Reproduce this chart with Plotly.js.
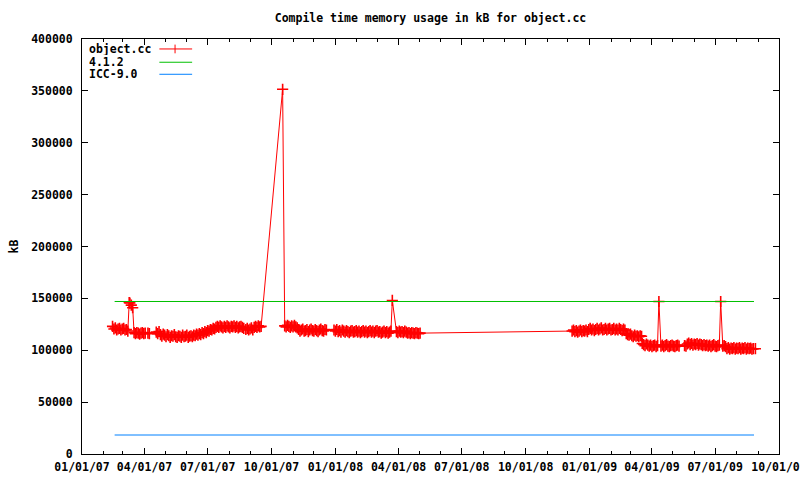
<!DOCTYPE html>
<html>
<head>
<meta charset="utf-8">
<script src="https://cdn.plot.ly/plotly-3.0.1.min.js"></script>
<style>html,body{margin:0;padding:0;background:#fff;}#chart{width:800px;height:480px;}</style>
</head>
<body>
<div id="chart"></div>
<script>
// ---- data ----
const chartTitle = 'Compile time memory usage in kB for object.cc';
const yTitle = 'kB';
const seriesNames = ['object.cc', '4.1.2', 'ICC-9.0'];

const objDates = [
'2007-02-14','2007-02-16','2007-02-18','2007-02-20','2007-02-22','2007-02-24','2007-02-26','2007-02-28','2007-03-02','2007-03-04','2007-03-06','2007-03-08',
'2007-03-10','2007-03-11','2007-03-13','2007-03-15','2007-03-17',
'2007-03-19','2007-03-21','2007-03-23','2007-03-25','2007-03-27','2007-03-29','2007-03-31','2007-04-02','2007-04-06','2007-04-08',
'2007-04-18','2007-04-20','2007-04-22',
'2007-04-24','2007-04-26','2007-04-28','2007-04-30','2007-05-02','2007-05-04','2007-05-06','2007-05-08','2007-05-10','2007-05-12','2007-05-14','2007-05-16','2007-05-18','2007-05-20','2007-05-22','2007-05-24','2007-05-26','2007-05-28','2007-05-30','2007-06-01','2007-06-03','2007-06-05','2007-06-07','2007-06-09','2007-06-11',
'2007-06-13','2007-06-15','2007-06-17','2007-06-19','2007-06-21','2007-06-23','2007-06-25','2007-06-27','2007-06-29','2007-07-01','2007-07-03','2007-07-05','2007-07-07','2007-07-09','2007-07-11','2007-07-13',
'2007-07-15','2007-07-17','2007-07-19','2007-07-21','2007-07-23','2007-07-25','2007-07-27','2007-07-29','2007-07-31','2007-08-02','2007-08-04','2007-08-06','2007-08-08','2007-08-10','2007-08-12','2007-08-14','2007-08-16','2007-08-18','2007-08-20','2007-08-22',
'2007-08-25','2007-08-27','2007-08-29','2007-08-31','2007-09-02','2007-09-04','2007-09-06','2007-09-08','2007-09-10','2007-09-12','2007-09-14','2007-09-16',
'2007-10-17',
'2007-10-20','2007-10-22','2007-10-24','2007-10-26','2007-10-28','2007-10-30','2007-11-01','2007-11-03','2007-11-05','2007-11-07',
'2007-11-09','2007-11-11','2007-11-13','2007-11-15','2007-11-17','2007-11-19','2007-11-21','2007-11-23','2007-11-25','2007-11-27','2007-11-29','2007-12-01','2007-12-03','2007-12-05','2007-12-07','2007-12-09','2007-12-11','2007-12-13','2007-12-15','2007-12-17','2007-12-19',
'2007-12-30',
'2008-01-01','2008-01-03','2008-01-05','2008-01-07','2008-01-09','2008-01-11','2008-01-13','2008-01-15','2008-01-17','2008-01-19','2008-01-21','2008-01-23','2008-01-25','2008-01-27','2008-01-29','2008-01-31',
'2008-02-02','2008-02-04','2008-02-06','2008-02-08','2008-02-10','2008-02-12','2008-02-14','2008-02-16','2008-02-18','2008-02-20','2008-02-22','2008-02-24','2008-02-26','2008-02-28',
'2008-03-01','2008-03-03','2008-03-05','2008-03-07','2008-03-09','2008-03-11','2008-03-13','2008-03-15','2008-03-17','2008-03-19','2008-03-21',
'2008-03-23','2008-03-29',
'2008-03-31','2008-04-02','2008-04-04','2008-04-06','2008-04-08','2008-04-10','2008-04-12','2008-04-14','2008-04-16','2008-04-18','2008-04-20','2008-04-22','2008-04-24','2008-04-26','2008-04-28','2008-04-30','2008-05-02',
'2008-12-07','2008-12-09','2008-12-11','2008-12-13','2008-12-15','2008-12-17','2008-12-19','2008-12-21','2008-12-23','2008-12-25','2008-12-27','2008-12-29',
'2008-12-31','2009-01-02','2009-01-04','2009-01-06','2009-01-08','2009-01-10','2009-01-12','2009-01-14','2009-01-16','2009-01-18','2009-01-20','2009-01-22','2009-01-24','2009-01-26','2009-01-28','2009-01-30',
'2009-02-01','2009-02-03','2009-02-05','2009-02-07','2009-02-09','2009-02-11','2009-02-13','2009-02-15','2009-02-17','2009-02-19','2009-02-21',
'2009-02-23','2009-02-25','2009-02-27','2009-03-01',
'2009-03-03','2009-03-05','2009-03-07','2009-03-09','2009-03-11','2009-03-13','2009-03-15','2009-03-17',
'2009-03-18','2009-03-20','2009-03-22','2009-03-24','2009-03-26','2009-03-28','2009-03-30','2009-04-01','2009-04-03','2009-04-05','2009-04-07','2009-04-09',
'2009-04-11',
'2009-04-14','2009-04-16','2009-04-18','2009-04-20','2009-04-22','2009-04-24','2009-04-26','2009-04-28','2009-04-30','2009-05-02','2009-05-04','2009-05-06','2009-05-08','2009-05-10',
'2009-05-18','2009-05-20',
'2009-05-22','2009-05-24','2009-05-26','2009-05-28','2009-05-30','2009-06-01','2009-06-03','2009-06-05','2009-06-07','2009-06-09','2009-06-11','2009-06-13','2009-06-15','2009-06-17','2009-06-19','2009-06-21',
'2009-06-23','2009-06-25','2009-06-27','2009-06-29','2009-07-01','2009-07-03','2009-07-05','2009-07-07',
'2009-07-09','2009-07-12','2009-07-14','2009-07-16',
'2009-07-18','2009-07-20','2009-07-22','2009-07-24','2009-07-26','2009-07-28','2009-07-30','2009-08-01','2009-08-03','2009-08-05','2009-08-07','2009-08-09','2009-08-11','2009-08-13','2009-08-15','2009-08-17','2009-08-19','2009-08-21','2009-08-23','2009-08-25','2009-08-28'
];

const objKB = [
123000,120500,121500,119500,120500,121000,119500,120500,121000,119500,120000,118500,
146000,145500,143500,141000,117000,
116000,117000,116500,115500,116500,117000,116000,116500,116500,116000,
117500,116000,118000,
115000,113500,115500,114500,113000,115000,114000,112500,114000,113500,115000,113000,112500,114000,113500,112500,114500,113000,113500,114500,112500,113500,114000,113000,114500,
114000,115500,114500,116000,115000,117000,116000,118000,117000,119000,118500,120000,119500,121000,120500,122000,
123000,122000,123500,122500,121500,123000,122000,123500,122500,121500,123000,122500,123500,122000,123000,121500,122500,123000,122000,121000,
120000,121000,119500,120500,121500,119500,122000,123000,122000,123500,122500,123000,
351500,
123500,122500,124000,123000,122000,123500,122500,124000,122500,121500,
120000,118500,119500,120500,118500,119000,120000,118000,119500,120500,119000,118500,120000,119000,118000,119500,120500,119000,118500,120000,119500,
119500,
118500,120000,118000,119000,117500,119500,118500,117500,119000,118000,117000,118500,119000,117500,118000,119000,
117500,118500,117000,118000,119000,117500,118500,117000,118000,119000,117500,118500,117000,118500,
119000,117500,118000,116500,117500,118500,117000,118000,116500,117500,118500,
148000,118000,
117000,118500,117500,118000,117000,118500,117500,116500,117000,116000,117000,116500,116000,117000,116500,116000,116500,
118500,119500,118000,119000,117500,118500,119500,118000,119000,118500,119500,118000,
120000,121000,119500,120500,119000,120000,121000,119500,120500,121500,119500,120000,121000,119500,120500,121000,
119500,120000,121000,119500,120500,119500,121000,120000,119000,120500,119500,
116000,115000,114500,115500,
114000,113000,114500,113500,114000,113000,114000,113500,
106500,105500,104500,106000,105000,104000,105000,103500,104500,105000,103500,104500,
147000,
104000,105000,103500,104500,105500,104000,103500,104500,105000,104000,103500,104500,105000,104000,
104500,104000,
106000,107000,105500,106500,105000,106000,105500,106500,105000,106000,105500,104500,105500,104500,105000,104000,
105000,103500,104500,105500,104000,103500,104500,105000,
147000,104000,104500,103500,
101500,102500,101000,102000,101500,102500,101000,102000,101500,102500,101000,102000,101500,102500,101000,102000,101500,102000,101000,101500,101500
];

const refDates = ['2007-02-17', '2009-08-26'];
const gcc412KB = [147000, 147000];
const icc90KB = [18300, 18300];

const xTickFormat = '%m/%d/%y';
const xRange = ['2007-01-01', '2009-10-01'];
const yRange = [0, 400000];

// ---- styling ----
const FONT = {family: 'DejaVu Sans Mono, Liberation Mono, monospace', size: 11.5, color: '#000', weight: 'bold'};
const RED = '#ff0000', GREEN = '#00c000', BLUE = '#0080ff';

const traces = [
  {x: objDates, y: objKB, name: seriesNames[0], type: 'scatter', mode: 'lines+markers',
   line: {color: RED, width: 1},
   marker: {symbol: 'cross-thin-open', size: 8, color: RED, line: {color: RED, width: 1.6}}},
  {x: refDates, y: gcc412KB, name: seriesNames[1], type: 'scatter', mode: 'lines',
   line: {color: GREEN, width: 1}},
  {x: refDates, y: icc90KB, name: seriesNames[2], type: 'scatter', mode: 'lines',
   line: {color: BLUE, width: 1}}
];

// manual gnuplot-style key (text left, sample right)
const keyRows = [0.976, 0.944, 0.915];
const keyColors = [RED, GREEN, BLUE];
const annotations = seriesNames.map((n, i) => ({
  text: n, xref: 'paper', yref: 'paper', x: 0.009, y: keyRows[i],
  xanchor: 'left', yanchor: 'middle', showarrow: false, font: FONT,
  height: 12, valign: 'middle', borderpad: 0
}));
const shapes = [];
keyColors.forEach((c, i) => {
  shapes.push({type: 'line', xref: 'paper', yref: 'paper', x0: 0.111, x1: 0.158,
    y0: keyRows[i], y1: keyRows[i], line: {color: c, width: 1}});
});
shapes.push({type: 'line', xref: 'paper', yref: 'paper', x0: 0.1335, x1: 0.1335,
  y0: keyRows[0] - 0.0105, y1: keyRows[0] + 0.0105, line: {color: RED, width: 1}});

const layout = {
  width: 800, height: 480,
  margin: {l: 82, r: 21, t: 39, b: 26},
  paper_bgcolor: '#fff', plot_bgcolor: '#fff',
  font: FONT,
  showlegend: false,
  title: {text: chartTitle, font: FONT, x: 0.5, xref: 'paper', xanchor: 'center',
          y: 1 - 18 / 480, yref: 'container', yanchor: 'middle'},
  xaxis: {
    type: 'date', range: xRange, tick0: '2007-01-01', dtick: 'M3', tickformat: xTickFormat,
    ticks: 'inside', ticklen: 6, tickcolor: '#000', tickwidth: 1,
    showline: true, linecolor: '#000', linewidth: 1, mirror: 'ticks',
    showgrid: false, zeroline: false, tickfont: FONT, ticklabelstandoff: 2,
    ticklabeloverflow: 'allow',
    minor: {dtick: 'M1', ticks: 'inside', ticklen: 3, tickcolor: '#000', showgrid: false}
  },
  yaxis: {
    range: yRange, dtick: 50000, tick0: 0, tickformat: 'd',
    ticks: 'inside', ticklen: 6, tickcolor: '#000', tickwidth: 1,
    showline: true, linecolor: '#000', linewidth: 1, mirror: 'ticks',
    showgrid: false, zeroline: false, tickfont: FONT, ticklabelstandoff: 6,
    title: {text: yTitle, font: FONT, standoff: 10}
  },
  annotations: annotations,
  shapes: shapes
};

Plotly.newPlot('chart', traces, layout, {displayModeBar: false, staticPlot: true});
</script>
</body>
</html>
